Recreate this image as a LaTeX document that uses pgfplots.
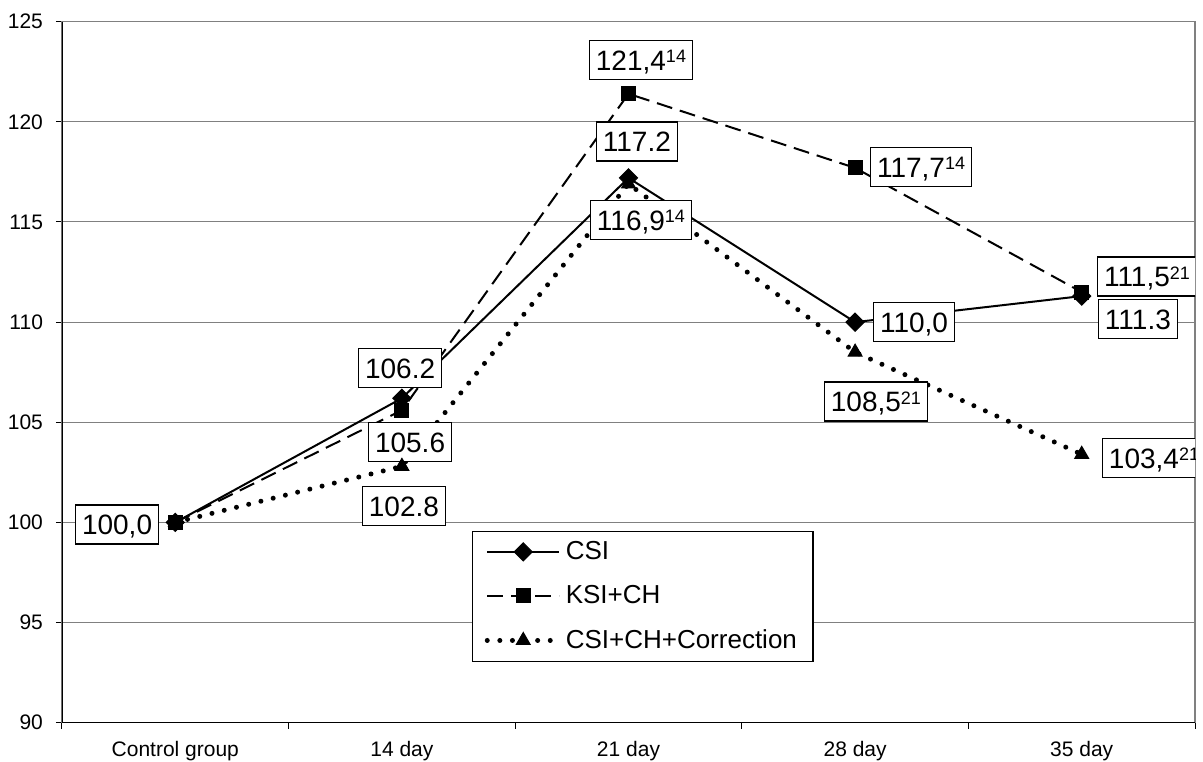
\documentclass[border=0pt]{standalone}
\usepackage{pgfplots}
\pgfplotsset{compat=1.18}
\usepackage{fontspec}
\setmainfont{Liberation Sans}

\newcommand\sups[1]{\raisebox{3.8pt}{\fontsize{9}{9}\selectfont #1}}
\tikzset{labbox/.style={draw=black, line width=0.7pt, fill=white,
    font=\fontsize{14}{16}\selectfont, inner xsep=3.25pt,
    inner ysep=4.6pt, text height=10.3pt, text depth=0pt}}

\begin{document}
\begin{tikzpicture}
\useasboundingbox (-31pt,-19.5pt) rectangle (570.5pt,361.35pt);
\begin{axis}[
    at={(0,0)}, anchor=south west,
    scale only axis, width=566.5pt, height=350.5pt,
    xmin=-0.5, xmax=4.5, ymin=90, ymax=125,
    xtick={0,...,4},
    xticklabels={Control group,14 day,21 day,28 day,35 day},
    minor xtick={-0.5,0.5,...,4.5},
    major x tick style={draw=none},
    ytick={90,95,...,125},
    /pgf/number format/assume math mode=true,
    ymajorgrids,
    grid style={gray, line width=0.5pt},
    axis line style={gray, line width=0.6pt},
    tick align=outside, tick pos=left,
    tick style={black, line width=0.5pt},
    major tick length=3pt, minor tick length=3pt,
    xticklabel style={font=\fontsize{10.5}{12}\selectfont, yshift=-3pt},
    yticklabel style={font=\fontsize{10.5}{12}\selectfont, xshift=-3pt},
    legend image code/.code={
        \draw[mark repeat=2, mark phase=2, #1]
            plot coordinates {(0pt,0pt) (18pt,0pt) (36pt,0pt)};},
    legend style={at={(0.362,0.274)}, anchor=north west,
        draw=black, line width=0.6pt, fill=white,
        font=\fontsize{13}{14}\selectfont,
        inner xsep=6pt, inner ysep=3pt, row sep=7.5pt},
    legend cell align=left,
]
\addplot[black, line width=1pt, mark=square*,
    mark options={solid, rotate=45, line width=0.5pt}, mark size=3.2pt]
    coordinates {(0,100) (1,106.2) (2,117.2) (3,110.0) (4,111.3)};
\addlegendentry{CSI}
\addplot[black, line width=1pt, dash pattern=on 8pt off 4pt, mark=square*,
    mark options={solid, line width=0.5pt}, mark size=3.5pt]
    coordinates {(0,100) (1,105.6) (2,121.4) (3,117.7) (4,111.5)};
\addlegendentry{KSI+CH}
\addplot[black, line width=2.5pt, line cap=round, dash pattern=on 0pt off 6.3pt,
    mark=triangle*, mark options={solid, line width=0.5pt}, mark size=4pt]
    coordinates {(0,100) (1,102.8) (2,116.9) (3,108.5) (4,103.4)};
\addlegendentry{CSI+CH+Correction}

\draw[black, line width=0.8pt] (rel axis cs:0,1) -- (rel axis cs:0,0) -- (rel axis cs:1,0);

\node[labbox] at (axis cs:-0.257,99.9) {100,0};
\node[labbox] at (axis cs:0.992,107.72) {106.2};
\node[labbox] at (axis cs:1.036,104.03) {105.6};
\node[labbox] at (axis cs:1.009,100.83) {102.8};
\node[labbox] at (axis cs:2.055,123.10) {121,4\sups{14}};
\node[labbox] at (axis cs:2.037,119.01) {117.2};
\node[labbox] at (axis cs:2.055,115.11) {116,9\sups{14}};
\node[labbox] at (axis cs:3.291,117.76) {117,7\sups{14}};
\node[labbox] at (axis cs:3.26,110.02) {110,0};
\node[labbox] at (axis cs:3.092,106.03) {108,5\sups{21}};
\node[labbox] at (axis cs:4.288,112.27) {111,5\sups{21}};
\node[labbox] at (axis cs:4.248,110.17) {111.3};
\node[labbox] at (axis cs:4.319,103.23) {103,4\sups{21}};
\end{axis}
\end{tikzpicture}
\end{document}
